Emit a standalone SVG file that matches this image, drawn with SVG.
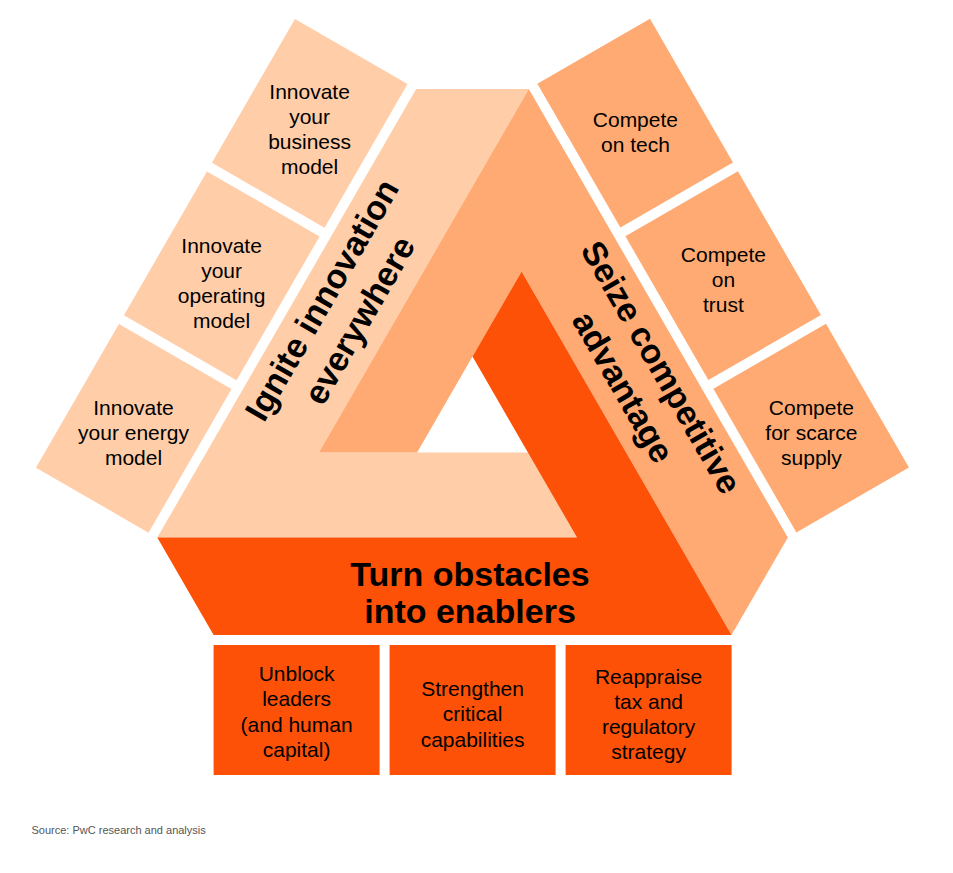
<svg xmlns="http://www.w3.org/2000/svg" width="953" height="873" viewBox="0 0 953 873">
  <style>
    .light { fill: #FFCDA8; }
    .mid { fill: #FFAA72; }
    .red { fill: #FD5108; }
    .lbl { font-family: "Liberation Sans", Arial, sans-serif; font-size: 21px; fill: #000; text-anchor: middle; }
    .ttl { font-family: "Liberation Sans", Arial, sans-serif; font-size: 34px; font-weight: bold; fill: #000; text-anchor: middle; }
    .src { font-family: "Liberation Sans", Arial, sans-serif; font-size: 11px; fill: #555; }
  </style>
  <rect width="953" height="873" fill="#fff"/>

  <!-- Penrose triangle pieces -->
  <g id="node-ignite">
    <polygon class="light" points="157.3,537.5 416.2,89 528.8,89 318.9,452.5 528,452.5 577,537.5"/>
    <text class="ttl" transform="translate(332,305.7) rotate(-60)">Ignite innovation</text>
    <text class="ttl" transform="translate(369.5,326.2) rotate(-60)">everywhere</text>
  </g>
  <g id="node-seize">
    <polygon class="mid" points="528.8,89 787.8,537.5 731.5,635 521.6,271.5 417.1,452.5 318.9,452.5"/>
    <text class="ttl" transform="translate(651.2,373.2) rotate(60)">Seize competitive</text>
    <text class="ttl" transform="translate(613,392.8) rotate(60)">advantage</text>
  </g>
  <g id="node-turn">
    <polygon class="red" points="521.6,271.5 731.5,635 213.6,635 157.3,537.5 577,537.5 472.5,356.5"/>
    <text class="ttl" x="470" y="586">Turn obstacles</text>
    <text class="ttl" x="470" y="623">into enablers</text>
  </g>

  <!-- Left boxes -->
  <g id="node-business">
    <rect class="light" x="213.6" y="645" width="166" height="130" transform="rotate(120 472.5 420.5)"/>
    <text class="lbl" x="309.6" y="99">Innovate</text>
    <text class="lbl" x="309.6" y="124">your</text>
    <text class="lbl" x="309.6" y="149">business</text>
    <text class="lbl" x="309.6" y="174">model</text>
  </g>
  <g id="node-operating">
    <rect class="light" x="389.6" y="645" width="166" height="130" transform="rotate(120 472.5 420.5)"/>
    <text class="lbl" x="221.6" y="253">Innovate</text>
    <text class="lbl" x="221.6" y="278">your</text>
    <text class="lbl" x="221.6" y="303">operating</text>
    <text class="lbl" x="221.6" y="328">model</text>
  </g>
  <g id="node-energy">
    <rect class="light" x="565.6" y="645" width="166" height="130" transform="rotate(120 472.5 420.5)"/>
    <text class="lbl" x="133.5" y="415">Innovate</text>
    <text class="lbl" x="133.5" y="440">your energy</text>
    <text class="lbl" x="133.5" y="465">model</text>
  </g>

  <!-- Right boxes -->
  <g id="node-tech">
    <rect class="mid" x="565.6" y="645" width="166" height="130" transform="rotate(-120 472.5 420.5)"/>
    <text class="lbl" x="635.4" y="127">Compete</text>
    <text class="lbl" x="635.4" y="152">on tech</text>
  </g>
  <g id="node-trust">
    <rect class="mid" x="389.6" y="645" width="166" height="130" transform="rotate(-120 472.5 420.5)"/>
    <text class="lbl" x="723.4" y="262">Compete</text>
    <text class="lbl" x="723.4" y="287">on</text>
    <text class="lbl" x="723.4" y="312">trust</text>
  </g>
  <g id="node-scarce">
    <rect class="mid" x="213.6" y="645" width="166" height="130" transform="rotate(-120 472.5 420.5)"/>
    <text class="lbl" x="811.4" y="414.5">Compete</text>
    <text class="lbl" x="811.4" y="439.5">for scarce</text>
    <text class="lbl" x="811.4" y="464.5">supply</text>
  </g>

  <!-- Bottom boxes -->
  <g id="node-unblock">
    <rect class="red" x="213.6" y="645" width="166" height="130"/>
    <text class="lbl" x="296.6" y="681">Unblock</text>
    <text class="lbl" x="296.6" y="706">leaders</text>
    <text class="lbl" x="296.6" y="732">(and human</text>
    <text class="lbl" x="296.6" y="757">capital)</text>
  </g>
  <g id="node-strengthen">
    <rect class="red" x="389.6" y="645" width="166" height="130"/>
    <text class="lbl" x="472.6" y="696">Strengthen</text>
    <text class="lbl" x="472.6" y="721">critical</text>
    <text class="lbl" x="472.6" y="747">capabilities</text>
  </g>
  <g id="node-reappraise">
    <rect class="red" x="565.6" y="645" width="166" height="130"/>
    <text class="lbl" x="648.6" y="684">Reappraise</text>
    <text class="lbl" x="648.6" y="709">tax and</text>
    <text class="lbl" x="648.6" y="734">regulatory</text>
    <text class="lbl" x="648.6" y="759">strategy</text>
  </g>

  <g id="connectors"/>

  <text class="src" x="31.5" y="834">Source: PwC research and analysis</text>
</svg>
